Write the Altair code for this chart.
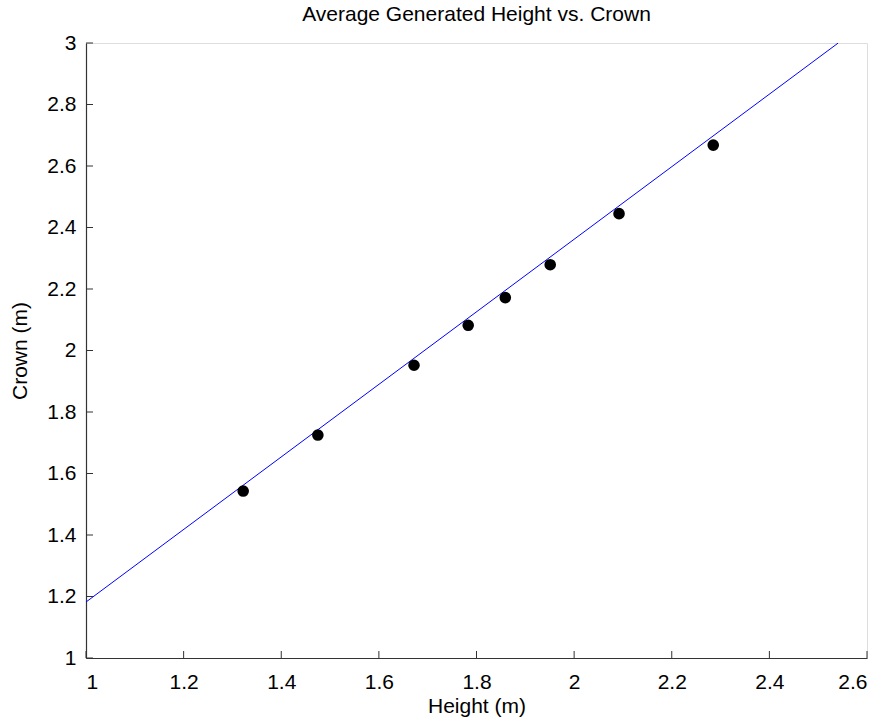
import altair as alt
import pandas as pd

# Data
height = [1.322, 1.475, 1.672, 1.783, 1.859, 1.951, 2.092, 2.285]
crown = [1.543, 1.725, 1.952, 2.082, 2.172, 2.279, 2.445, 2.668]

fit_x = [1.0, 2.541]
fit_y = [1.182, 3.0]

x_ticks = [1, 1.2, 1.4, 1.6, 1.8, 2, 2.2, 2.4, 2.6]
y_ticks = [1, 1.2, 1.4, 1.6, 1.8, 2, 2.2, 2.4, 2.6, 2.8, 3]

pts = pd.DataFrame({"Height": height, "Crown": crown})
fit = pd.DataFrame({"Height": fit_x, "Crown": fit_y})
xt = pd.DataFrame({"v": x_ticks})
yt = pd.DataFrame({"v": y_ticks})

W, H = 781, 615
FONT = "Liberation Sans"
FS = 21

xscale = alt.Scale(domain=[1, 2.6], nice=False, zero=False)
yscale = alt.Scale(domain=[1, 3], nice=False, zero=False)

xaxis = alt.Axis(values=x_ticks, format="~g", grid=False, ticks=False,
                 domainColor="#333333", domainWidth=1.2, labelFontSize=FS,
                 labelFont=FONT, labelColor="#000000", labelPadding=13,
                 title="Height (m)", titleFont=FONT, titleFontSize=FS,
                 titleFontWeight="normal", titleColor="#000000", titlePadding=3)
yaxis = alt.Axis(values=y_ticks, format="~g", grid=False, ticks=False,
                 domainColor="#333333", domainWidth=1.2, labelFontSize=FS,
                 labelFont=FONT, labelColor="#000000", labelPadding=10,
                 title="Crown (m)", titleFont=FONT, titleFontSize=FS,
                 titleFontWeight="normal", titleColor="#000000", titlePadding=16)

line = alt.Chart(fit).mark_line(color="#0000ff", strokeWidth=1, clip=True).encode(
    x=alt.X("Height:Q", scale=xscale, axis=xaxis),
    y=alt.Y("Crown:Q", scale=yscale, axis=yaxis),
)

points = alt.Chart(pts).mark_circle(color="#000000", opacity=1, size=135).encode(
    x=alt.X("Height:Q", scale=xscale),
    y=alt.Y("Crown:Q", scale=yscale),
)

xticks = alt.Chart(xt).mark_rule(color="#333333", strokeWidth=1).encode(
    x=alt.X("v:Q", scale=xscale),
    y=alt.value(H),
    y2=alt.value(H - 7),
)
yticks = alt.Chart(yt).mark_rule(color="#333333", strokeWidth=1).encode(
    y=alt.Y("v:Q", scale=yscale),
    x=alt.value(0),
    x2=alt.value(7),
)

chart = alt.layer(line, xticks, yticks, points).properties(
    width=W,
    height=H,
    title=alt.TitleParams("Average Generated Height vs. Crown", font=FONT,
                          fontSize=FS, fontWeight="normal", color="#000000",
                          anchor="middle", offset=7),
    autosize=alt.AutoSizeParams(type="none"),
    padding={"left": 86, "top": 43, "right": 19, "bottom": 66},
).configure_view(stroke=None).configure(background="white")

chart.save("out.html", embed_options={"renderer": "svg", "actions": False})
